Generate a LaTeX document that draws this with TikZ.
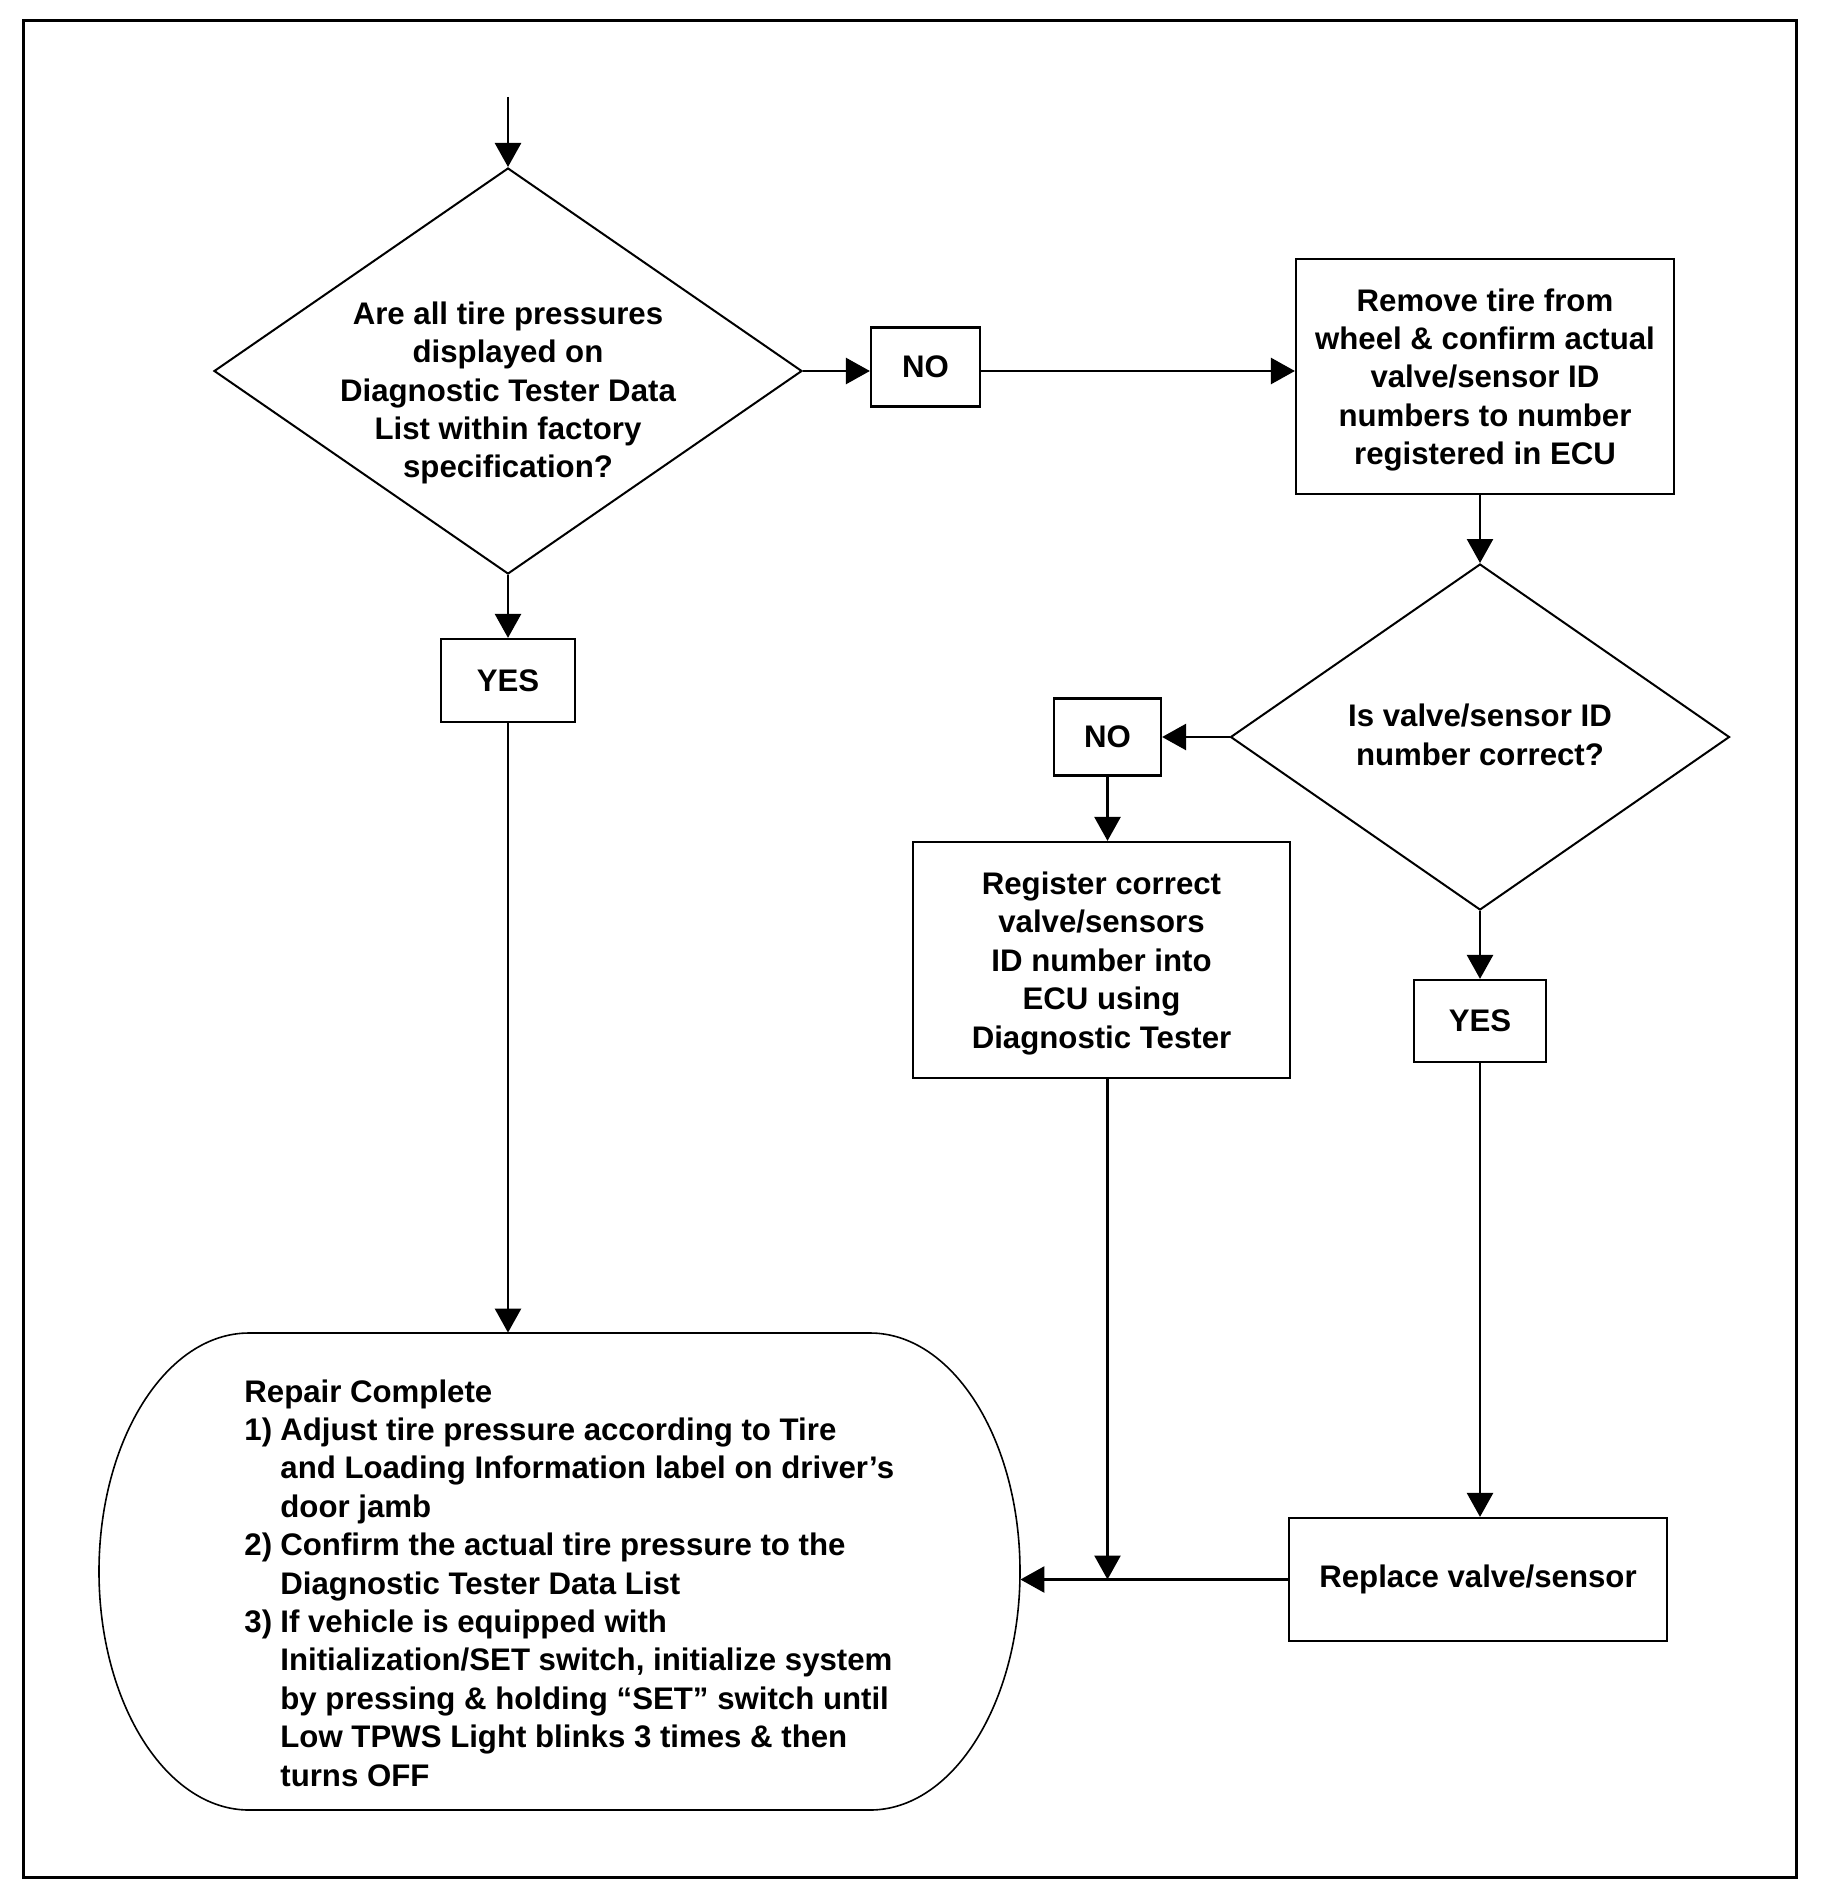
\documentclass[tikz,border=0pt]{standalone}
\usepackage{fontspec}
\setmainfont{Liberation Sans}
\usetikzlibrary{arrows.meta,shapes.geometric}
\newcommand{\myind}{\hspace*{18pt}}
\newcommand{\myitem}[1]{\makebox[18pt][l]{#1}}
\begin{document}
\begin{tikzpicture}[x=0.5pt,y=-0.5pt,
  txt/.style={font=\fontsize{15.6}{19.2}\selectfont\bfseries, align=center},
  box/.style={draw, line width=1.1pt, inner sep=0pt, txt},
  dia/.style={draw, diamond, line width=1pt, inner sep=0pt},
  arr/.style={line width=1.3pt, -{Triangle[length=12pt,width=13pt]}},
]
\useasboundingbox (0,0) rectangle (1820,1900);
\draw[line width=1.5pt] (23,21) rectangle (1796,1877);

% nodes
\node[dia, minimum width=294pt, minimum height=203pt] (d1) at (508,371) {};
\node[txt] (d1t) at (508,393) {Are all tire pressures\\displayed on\\Diagnostic Tester Data\\List within factory\\specification?};
\node[box, minimum width=54.5pt, minimum height=39.5pt] (no1) at (925.5,367) {NO};
\node[box, minimum width=189pt, minimum height=117.5pt, text depth=0pt] (remove) at (1485,376.5) {Remove tire from\\wheel \& confirm actual\\valve/sensor ID\\numbers to number\\registered in ECU};
\node[box, minimum width=67pt, minimum height=41.5pt] (yes1) at (508,680.5) {YES};
\node[dia, minimum width=249.5pt, minimum height=173pt] (d2) at (1480,737) {};
\node[txt] (d2t) at (1480,735) {Is valve/sensor ID\\number correct?};
\node[box, minimum width=53.5pt, minimum height=38.5pt] (no2) at (1107.5,737) {NO};
\node[box, minimum width=188.5pt, minimum height=118pt, text depth=0pt] (reg) at (1101.5,960) {Register correct\\valve/sensors\\ID number into\\ECU using\\Diagnostic Tester};
\node[box, minimum width=66pt, minimum height=41pt] (yes2) at (1480,1021) {YES};
\node[box, minimum width=189pt, minimum height=61.5pt] (replace) at (1478,1579.5) {Replace valve/sensor};

% terminal
\node[inner sep=0pt, minimum width=460.5pt, minimum height=238.5pt] (term) at (559.5,1571.5) {};
\draw[line width=0.8pt] (249,1333) -- (870,1333)
  .. controls (952.8,1333) and (1020,1439.8) .. (1020,1571.5)
  .. controls (1020,1703.2) and (952.8,1810) .. (870,1810)
  -- (249,1810)
  .. controls (166.2,1810) and (99,1703.2) .. (99,1571.5)
  .. controls (99,1439.8) and (166.2,1333) .. (249,1333) -- cycle;
\node[txt, align=left, anchor=north west, inner sep=0pt] (termt) at (244,1379) {Repair Complete\\
\myitem{1)}Adjust tire pressure according to Tire\\
\myind and Loading Information label on driver’s\\
\myind door jamb\\
\myitem{2)}Confirm the actual tire pressure to the\\
\myind Diagnostic Tester Data List\\
\myitem{3)}If vehicle is equipped with\\
\myind Initialization/SET switch, initialize system\\
\myind by pressing \& holding “SET” switch until\\
\myind Low TPWS Light blinks 3 times \& then\\
\myind turns OFF};

% connectors
\coordinate (start) at (508,97);
\draw[arr] (start) -- (d1.north);
\draw[arr] (d1.east) -- (no1.west |- d1.east);
\draw[arr] (no1.east |- d1.east) -- (d1.east -| remove.west);
\draw[arr] (d1.south) -- (yes1.north);
\draw[arr] (yes1.south) -- (yes1.south |- term.north);
\draw[arr] (d2.north |- remove.south) -- (d2.north);
\draw[arr] (d2.west) -- (no2.east);
\draw[arr] (no2.south) -- (no2.south |- reg.north);
\draw[arr] (d2.south) -- (yes2.north);
\draw[arr] (yes2.south) -- (yes2.south |- replace.north);
\draw[arr] (replace.west) -- (replace.west -| term.east);
\coordinate (j) at (no2.south |- replace.west);
\draw[arr] (no2.south |- reg.south) -- (j);
\end{tikzpicture}
\end{document}
